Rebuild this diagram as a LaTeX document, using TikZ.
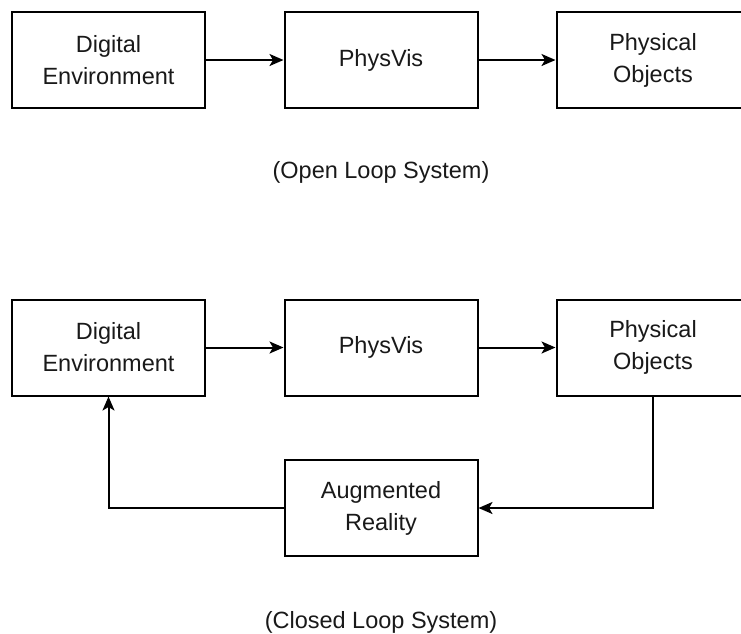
\documentclass[tikz,border=0pt]{standalone}
\usepackage{fontspec}
\setmainfont{Liberation Sans}
\usetikzlibrary{arrows.meta}
\begin{document}
\begin{tikzpicture}[x=1pt,y=-1pt,
  blockbox/.style={draw=black, line width=2pt, minimum width=193pt, minimum height=96pt,
    inner sep=0pt, align=center, font=\fontsize{23.5}{32}\selectfont, text=black!90},
  caption/.style={inner sep=0pt, font=\fontsize{23.5}{28}\selectfont, text=black!90},
  conn/.style={line width=2pt, draw=black, -{Stealth[length=14pt,width=12pt,inset=3.5pt]}},
  plain/.style={line width=2pt, draw=black}]
\useasboundingbox (0,0) rectangle (741,633);
\clip (0,0) rectangle (741,633);
% open loop
\node[blockbox] (de1) at (108.5,60) {Digital\\Environment};
\node[blockbox] (pv1) at (381,60) {PhysVis};
\node[blockbox] (po1) at (653,60) {Physical\\Objects};
\draw[conn] (de1.east) -- (pv1.west);
\draw[conn] (pv1.east) -- (po1.west);
\node[caption] (cap1) at (381,172) {(Open Loop System)};
% closed loop
\node[blockbox] (de2) at (108.5,347.5) {Digital\\Environment};
\node[blockbox] (pv2) at (381,347.5) {PhysVis};
\node[blockbox] (po2) at (653,347.5) {Physical\\Objects};
\node[blockbox] (ar) at (381,508) {Augmented\\Reality};
\draw[conn] (de2.east) -- (pv2.west);
\draw[conn] (pv2.east) -- (po2.west);
\draw[conn] (po2.south) |- (ar.east);
\draw[conn] (ar.west) -| (de2.south);
\node[caption] (cap2) at (381,622) {(Closed Loop System)};
\end{tikzpicture}
\end{document}
